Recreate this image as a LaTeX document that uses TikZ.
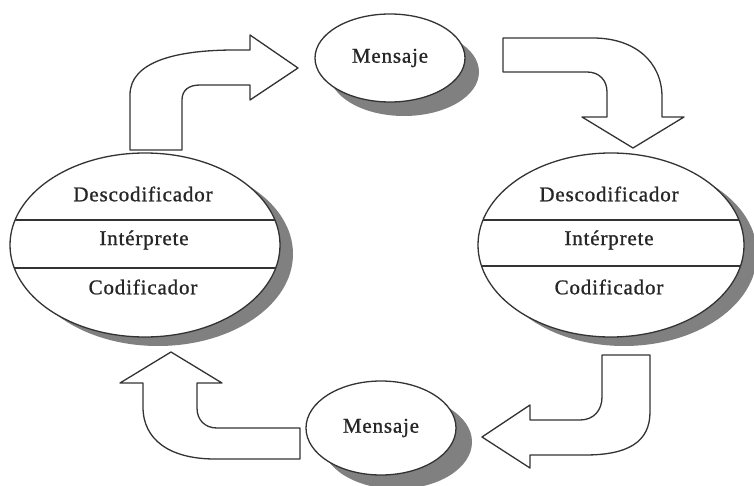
\documentclass[tikz,border=0pt]{standalone}
\usepackage{fontspec}
\setmainfont{Liberation Serif}[LetterSpace=4, FakeBold=1]
\usetikzlibrary{shapes.geometric}
\tikzset{
  outl/.style={draw=black!80, line width=1.3pt, fill=white, line join=round},
  shad/.style={fill=black!50, draw=none},
  lbl/.style={font=\fontsize{21}{24}\selectfont, text=black!85, inner sep=0pt},
  bigell/.style={ellipse, outl, minimum width=270pt, minimum height=184pt, inner sep=0pt},
  smallell/.style={ellipse, outl, minimum width=150pt, minimum height=88pt, inner sep=0pt, font=\fontsize{21}{24}\selectfont, text=black!85},
  sep/.style={draw=black!80, line width=1.3pt}
}
\begin{document}
\begin{tikzpicture}[x=1pt,y=-1pt]
\useasboundingbox (0,0) rectangle (754,486);
\clip (0,0) rectangle (754,486);
\fill[white] (0,0) rectangle (754,486);

% shadows
\fill[shad] (158,254) ellipse [x radius=135pt, y radius=92pt];
\fill[shad] (624,254) ellipse [x radius=133pt, y radius=92pt];
\fill[shad] (404,72) ellipse [x radius=75pt, y radius=44pt];
\fill[shad] (397,442) ellipse [x radius=75pt, y radius=47pt];

% ellipses
\node[bigell] (L) at (145,245) {};
\node[bigell, minimum width=266pt] (R) at (611,245) {};
\node[smallell] (M1) at (390,58) {Mensaje};
\node[smallell, minimum height=94pt] (M2) at (381,428) {Mensaje};

% separators
\draw[sep] (15.1,220) -- (274.9,220);
\draw[sep] (14.3,268) -- (275.7,268);
\draw[sep] (483,220) -- (739,220);
\draw[sep] (481.5,266) -- (740.5,266);

% labels
\node[lbl] (Ld) at (143,194) {Descodificador};
\node[lbl] (Li) at (144,240) {Intérprete};
\node[lbl] (Lc) at (143,287) {Codificador};
\node[lbl] (Rd) at (609,194) {Descodificador};
\node[lbl] (Ri) at (609,240) {Intérprete};
\node[lbl] (Rc) at (609,287) {Codificador};

% arrow top-left (L -> M1)
\draw[outl] (130,150) -- (130,95) .. controls (130,62) and (175,50) .. (235,50)
  -- (250,50) -- (250,35) -- (298,68) -- (250,100) -- (250,85) -- (200,85)
  .. controls (189,85) and (182,90) .. (182,100) -- (182,150) -- cycle;

% arrow top-right (M1 -> R)
\draw[outl] (503,38) -- (593,38) .. controls (635,38) and (662,62) .. (662,97)
  -- (662,117) -- (684,117) -- (633,148) -- (582,117) -- (607,117) -- (607,92)
  .. controls (607,80) and (599,72) .. (587,72) -- (503,72) -- cycle;

% arrow bottom-right (R -> M2)
\draw[outl] (602,355) -- (650,355) -- (650,412) .. controls (650,442) and (628,455) .. (585,455)
  -- (530,455) -- (530,468) -- (482,437) -- (530,405) -- (530,420) -- (580,420)
  .. controls (594,420) and (602,410) .. (602,397) -- cycle;

% arrow bottom-left (M2 -> L)
\draw[outl] (300,428) -- (300,459) -- (215,459) .. controls (170,459) and (143,440) .. (143,407)
  -- (143,383) -- (120,383) -- (171,352) -- (222,383) -- (197,383) -- (197,408)
  .. controls (197,420) and (205,428) .. (217,428) -- cycle;
\end{tikzpicture}
\end{document}
